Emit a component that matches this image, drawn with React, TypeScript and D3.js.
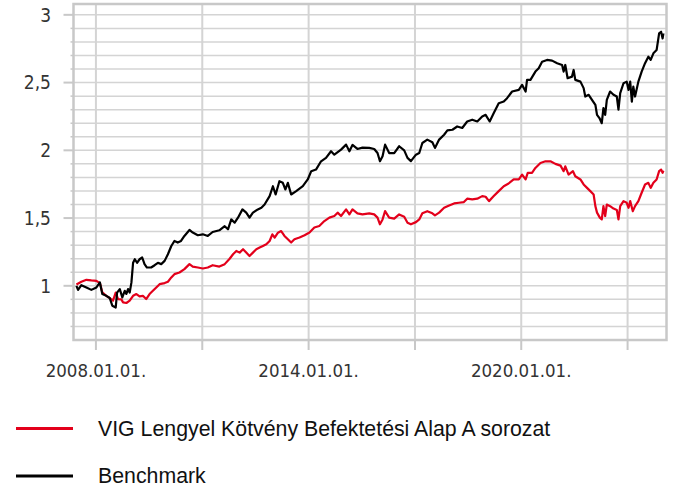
import * as d3 from 'd3';

const benchDates = [
  '2007-06-14', '2007-07-01', '2007-08-04', '2007-09-25', '2007-11-15', '2008-01-06', '2008-02-11', '2008-03-07',
  '2008-04-17', '2008-05-22', '2008-06-18', '2008-07-23', '2008-08-06', '2008-09-03', '2008-09-29', '2008-10-24',
  '2008-11-10', '2008-11-27', '2008-12-14', '2009-01-01', '2009-01-18', '2009-02-05', '2009-02-28', '2009-03-26',
  '2009-04-22', '2009-05-16', '2009-06-10', '2009-07-23', '2009-08-28', '2009-10-01', '2009-11-04', '2009-12-09',
  '2010-01-12', '2010-02-16', '2010-03-20', '2010-04-23', '2010-05-27', '2010-07-01', '2010-08-22', '2010-09-25',
  '2010-11-16', '2011-01-07', '2011-02-27', '2011-04-18', '2011-06-26', '2011-08-20', '2011-09-23', '2011-10-27',
  '2011-12-01', '2012-01-04', '2012-02-19', '2012-03-29', '2012-05-02', '2012-06-06', '2012-07-27', '2012-09-01',
  '2012-10-04', '2012-11-25', '2012-12-29', '2013-01-26', '2013-03-06', '2013-04-10', '2013-05-07', '2013-06-01',
  '2013-07-05', '2013-08-26', '2013-11-02', '2013-12-23', '2014-01-28', '2014-03-18', '2014-05-09', '2014-06-29',
  '2014-08-20', '2014-09-23', '2014-12-01', '2015-01-22', '2015-02-25', '2015-03-29', '2015-05-19', '2015-07-10',
  '2015-09-18', '2015-11-08', '2015-12-12', '2016-01-06', '2016-02-02', '2016-02-28', '2016-04-10', '2016-06-01',
  '2016-07-22', '2016-09-12', '2016-10-16', '2016-11-20', '2017-01-11', '2017-02-14', '2017-03-18', '2017-05-08',
  '2017-06-29', '2017-07-26', '2017-09-07', '2017-10-28', '2017-12-01', '2018-01-22', '2018-03-12', '2018-05-03',
  '2018-06-23', '2018-08-14', '2018-10-05', '2018-11-25', '2018-12-30', '2019-02-10', '2019-03-24', '2019-05-14',
  '2019-07-05', '2019-08-08', '2019-09-29', '2019-12-07', '2020-01-10', '2020-02-15', '2020-03-01', '2020-04-05',
  '2020-05-26', '2020-06-29', '2020-08-03', '2020-09-23', '2020-11-14', '2021-01-05', '2021-02-25', '2021-03-13',
  '2021-03-30', '2021-04-23', '2021-06-07', '2021-06-24', '2021-07-11', '2021-09-02', '2021-10-05', '2021-10-22',
  '2021-11-26', '2021-12-30', '2022-02-03', '2022-02-20', '2022-03-17', '2022-04-10', '2022-04-27', '2022-05-15',
  '2022-06-01', '2022-07-05', '2022-08-09', '2022-09-12', '2022-09-29', '2022-10-17', '2022-11-20', '2022-12-23',
  '2023-01-11', '2023-01-28', '2023-02-14', '2023-03-01', '2023-03-19', '2023-04-22', '2023-05-26', '2023-06-30',
  '2023-08-03', '2023-08-27', '2023-09-24', '2023-10-27', '2023-11-22', '2023-12-12', '2023-12-28', '2024-01-05',
];
const benchValues = [
  1.0, 0.97, 1.005, 0.988, 0.97, 0.988, 1.025, 0.939,
  0.926, 0.91, 0.853, 0.84, 0.95, 0.976, 0.915, 0.963,
  0.94, 0.976, 0.95, 1.025, 1.17, 1.196, 1.17, 1.196,
  1.209, 1.16, 1.135, 1.135, 1.152, 1.17, 1.16, 1.184,
  1.233, 1.294, 1.331, 1.319, 1.331, 1.368, 1.412, 1.393,
  1.373, 1.38, 1.368, 1.397, 1.41, 1.44, 1.417, 1.49,
  1.466, 1.503, 1.564, 1.54, 1.503, 1.54, 1.564, 1.576,
  1.6, 1.662, 1.735, 1.674, 1.772, 1.76, 1.711, 1.76,
  1.674, 1.699, 1.735, 1.785, 1.846, 1.858, 1.919, 1.944,
  1.993, 1.968, 2.005, 2.042, 1.993, 2.04, 2.01, 2.02,
  2.018, 2.01, 1.98, 1.919, 1.956, 2.042, 1.98, 1.98,
  2.03, 2.0, 1.944, 1.92, 1.968, 1.98, 2.054, 2.079,
  2.06, 2.018, 2.079, 2.115, 2.147, 2.152, 2.176, 2.165,
  2.213, 2.226, 2.213, 2.25, 2.262, 2.213, 2.275, 2.348,
  2.36, 2.385, 2.434, 2.446, 2.483, 2.434, 2.52, 2.52,
  2.581, 2.606, 2.654, 2.667, 2.662, 2.643, 2.63, 2.581,
  2.63, 2.532, 2.544, 2.593, 2.52, 2.507, 2.459, 2.397,
  2.41, 2.373, 2.336, 2.262, 2.238, 2.2, 2.312, 2.262,
  2.373, 2.434, 2.41, 2.397, 2.3, 2.422, 2.495, 2.507,
  2.446, 2.507, 2.36, 2.47, 2.397, 2.507, 2.581, 2.643,
  2.691, 2.667, 2.716, 2.74, 2.863, 2.875, 2.826, 2.863,
];

const fundDates = [
  '2007-06-14', '2007-08-04', '2007-09-25', '2007-11-15', '2008-01-06', '2008-02-11', '2008-03-07', '2008-04-17',
  '2008-05-22', '2008-06-25', '2008-07-23', '2008-08-16', '2008-09-19', '2008-10-07', '2008-11-10', '2008-12-14',
  '2009-01-18', '2009-02-21', '2009-03-26', '2009-04-29', '2009-06-02', '2009-07-07', '2009-08-10', '2009-09-14',
  '2009-10-18', '2009-12-09', '2010-01-12', '2010-02-16', '2010-03-20', '2010-05-11', '2010-07-01', '2010-08-22',
  '2010-09-25', '2010-11-16', '2011-01-07', '2011-02-27', '2011-04-18', '2011-06-26', '2011-08-20', '2011-10-10',
  '2011-11-14', '2011-12-18', '2012-01-21', '2012-02-25', '2012-03-29', '2012-05-02', '2012-06-06', '2012-07-11',
  '2012-08-14', '2012-09-17', '2012-10-22', '2012-11-25', '2012-12-23', '2013-01-16', '2013-02-19', '2013-03-24',
  '2013-04-27', '2013-06-01', '2013-07-05', '2013-08-08', '2013-09-29', '2013-11-20', '2014-01-10', '2014-03-01',
  '2014-04-21', '2014-06-12', '2014-08-03', '2014-09-23', '2014-10-27', '2014-12-01', '2015-01-22', '2015-02-25',
  '2015-03-29', '2015-05-19', '2015-07-10', '2015-09-18', '2015-11-08', '2015-12-12', '2016-01-06', '2016-02-02',
  '2016-02-28', '2016-04-10', '2016-06-01', '2016-07-22', '2016-09-12', '2016-10-16', '2016-11-20', '2017-01-11',
  '2017-02-14', '2017-03-18', '2017-05-08', '2017-06-29', '2017-07-26', '2017-09-07', '2017-10-28', '2017-12-19',
  '2018-02-08', '2018-03-30', '2018-05-20', '2018-06-23', '2018-08-14', '2018-10-05', '2018-11-25', '2018-12-30',
  '2019-02-03', '2019-03-24', '2019-05-14', '2019-07-05', '2019-08-24', '2019-10-15', '2019-12-07', '2020-01-10',
  '2020-02-15', '2020-03-08', '2020-04-21', '2020-05-26', '2020-07-17', '2020-09-07', '2020-10-28', '2020-12-18',
  '2021-02-09', '2021-03-13', '2021-03-30', '2021-05-03', '2021-06-17', '2021-07-11', '2021-09-02', '2021-10-05',
  '2021-11-09', '2021-12-13', '2022-01-16', '2022-02-03', '2022-02-20', '2022-03-21', '2022-04-10', '2022-04-27',
  '2022-05-15', '2022-06-01', '2022-07-05', '2022-08-09', '2022-09-12', '2022-09-29', '2022-10-17', '2022-11-20',
  '2022-12-23', '2023-01-11', '2023-01-28', '2023-02-24', '2023-03-19', '2023-04-22', '2023-05-26', '2023-06-30',
  '2023-08-03', '2023-08-27', '2023-09-24', '2023-10-27', '2023-11-22', '2023-12-12', '2023-12-28', '2024-01-05',
];
const fundValues = [
  1.01, 1.03, 1.044, 1.04, 1.037, 1.02, 0.951, 0.926,
  0.91, 0.89, 0.95, 0.902, 0.9, 0.878, 0.873, 0.89,
  0.926, 0.939, 0.922, 0.926, 0.902, 0.939, 0.963, 0.988,
  1.012, 1.02, 1.03, 1.062, 1.086, 1.098, 1.123, 1.16,
  1.142, 1.135, 1.128, 1.135, 1.152, 1.142, 1.16, 1.2,
  1.233, 1.257, 1.245, 1.27, 1.245, 1.22, 1.245, 1.27,
  1.282, 1.294, 1.306, 1.331, 1.38, 1.356, 1.392, 1.404,
  1.368, 1.343, 1.319, 1.343, 1.356, 1.373, 1.393, 1.43,
  1.441, 1.478, 1.503, 1.515, 1.54, 1.515, 1.564, 1.527,
  1.564, 1.535, 1.527, 1.535, 1.527, 1.503, 1.454, 1.49,
  1.551, 1.503, 1.496, 1.527, 1.51, 1.466, 1.454, 1.47,
  1.49, 1.535, 1.551, 1.535, 1.52, 1.54, 1.576, 1.593,
  1.608, 1.613, 1.618, 1.643, 1.638, 1.643, 1.662, 1.657,
  1.625, 1.662, 1.699, 1.735, 1.755, 1.785, 1.785, 1.821,
  1.785, 1.834, 1.834, 1.87, 1.907, 1.919, 1.919, 1.9,
  1.887, 1.846, 1.882, 1.821, 1.846, 1.809, 1.785, 1.748,
  1.723, 1.699, 1.674, 1.588, 1.54, 1.503, 1.49, 1.588,
  1.515, 1.6, 1.588, 1.57, 1.56, 1.49, 1.588, 1.625,
  1.613, 1.576, 1.625, 1.551, 1.588, 1.625, 1.687, 1.748,
  1.76, 1.723, 1.76, 1.785, 1.846, 1.858, 1.834, 1.85,
];

const yMajorTicks = [1, 1.5, 2, 2.5, 3];
const yMinorTicks = [0.7, 0.8, 0.9, 1.1, 1.2, 1.3, 1.4, 1.6, 1.7, 1.8, 1.9, 2.1, 2.2, 2.3, 2.4, 2.6, 2.7, 2.8, 2.9];
const xTickDates = ['2008-01-01', '2011-01-01', '2014-01-01', '2017-01-01', '2020-01-01', '2023-01-01'];
const xTickLabels = ['2008.01.01.', '', '2014.01.01.', '', '2020.01.01.', ''];

const seriesNames = ['VIG Lengyel Kötvény Befektetési Alap A sorozat', 'Benchmark'];
const seriesColors = ['#e3001b', '#000000'];

const W = 674;
const H = 488;
const plot = { left: 73.5, right: 666.5, top: 4, bottom: 340 };
const gridColor = '#d4d4d4';
const axisColor = '#c8c8c8';
const tickFont = "'DejaVu Sans Condensed', 'DejaVu Sans', sans-serif";

const parse = d3.timeParse('%Y-%m-%d');

export default function App() {
  const x = d3.scaleTime()
    .domain([parse('2007-05-15')!, parse('2024-02-06')!])
    .range([plot.left, plot.right]);
  const y = d3.scaleLinear()
    .domain([0.6, 3.08])
    .range([plot.bottom, plot.top]);

  const line = d3.line<[Date, number]>()
    .x(d => x(d[0]))
    .y(d => y(d[1]));

  const fund = fundDates.map((d, i) => [parse(d)!, fundValues[i]] as [Date, number]);
  const bench = benchDates.map((d, i) => [parse(d)!, benchValues[i]] as [Date, number]);
  const xTicks = xTickDates.map(d => parse(d)!);

  return (
    <svg width={W} height={H} style={{ position: 'absolute', left: 0, top: 0, background: '#fff' }}>
      {/* horizontal grid */}
      {yMinorTicks.concat(yMajorTicks).map(v => (
        <line key={`h${v}`} x1={plot.left} x2={plot.right} y1={y(v)} y2={y(v)} stroke={gridColor} strokeWidth={1.5} />
      ))}
      {/* vertical grid */}
      {xTicks.map((d, i) => (
        <line key={`v${i}`} x1={x(d)} x2={x(d)} y1={plot.top} y2={plot.bottom} stroke={gridColor} strokeWidth={2} />
      ))}

      {/* frame */}
      <rect x={plot.left} y={plot.top} width={plot.right - plot.left} height={plot.bottom - plot.top}
        fill="none" stroke={axisColor} strokeWidth={2.5} />

      {/* y ticks */}
      {yMinorTicks.map(v => (
        <line key={`ym${v}`} x1={plot.left - 3} x2={plot.left} y1={y(v)} y2={y(v)} stroke={axisColor} strokeWidth={1.5} />
      ))}
      {yMajorTicks.map(v => (
        <g key={`yM${v}`}>
          <line x1={plot.left - 10} x2={plot.left} y1={y(v)} y2={y(v)} stroke={axisColor} strokeWidth={2} />
          <text x={51} y={y(v)} dy="0.36em" textAnchor="end" fontFamily={tickFont} fontSize={19} fill="#333">
            {String(v).replace('.', ',')}
          </text>
        </g>
      ))}

      {/* x ticks */}
      {xTicks.map((d, i) => (
        <g key={`xt${i}`}>
          <line x1={x(d)} x2={x(d)} y1={plot.bottom} y2={plot.bottom + 10} stroke={axisColor} strokeWidth={2} />
          {xTickLabels[i] && (
            <text x={x(d)} y={377} textAnchor="middle" fontFamily={tickFont} fontSize={18.5} fill="#333">
              {xTickLabels[i]}
            </text>
          )}
        </g>
      ))}

      {/* series */}
      <path d={line(fund) ?? ''} fill="none" stroke={seriesColors[0]} strokeWidth={2.2} strokeLinejoin="round" />
      <path d={line(bench) ?? ''} fill="none" stroke={seriesColors[1]} strokeWidth={2.2} strokeLinejoin="round" />

      {/* legend */}
      {seriesNames.map((name, i) => (
        <g key={name} transform={`translate(0, ${428.5 + i * 47.5})`}>
          <line x1={16} x2={73} y1={0} y2={0} stroke={seriesColors[i]} strokeWidth={3} />
          <text x={98} y={0} dy="0.35em" fontFamily="'Liberation Sans', Arial, sans-serif" fontSize={21.3} fill="#111">
            {name}
          </text>
        </g>
      ))}
    </svg>
  );
}
